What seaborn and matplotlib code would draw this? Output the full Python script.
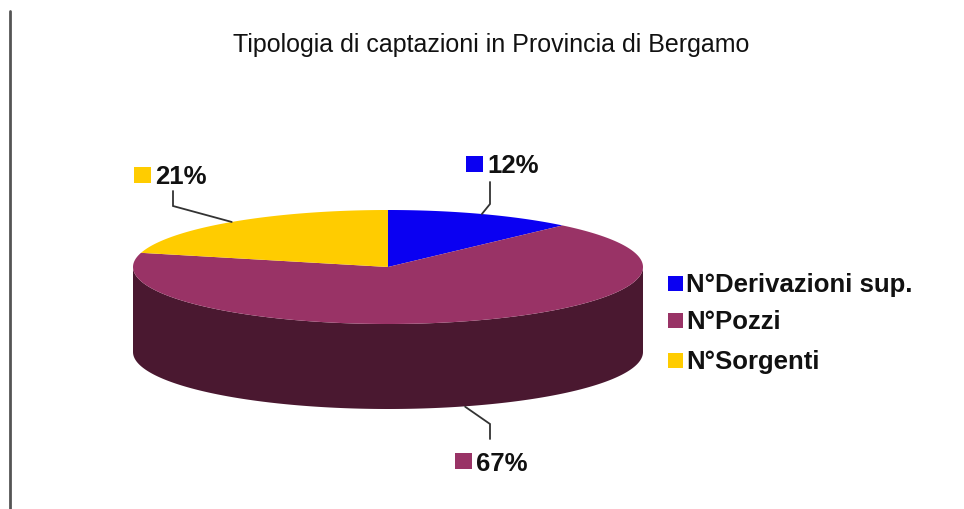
import numpy as np
import matplotlib
matplotlib.use("Agg")
import matplotlib.pyplot as plt
import seaborn as sns
from matplotlib.patches import Polygon, Rectangle

categories = ["N°Derivazioni sup.", "N°Pozzi", "N°Sorgenti"]
shares = [12, 67, 21]
pct_labels = ["12%", "67%", "21%"]
colors = ["#0a00f2", "#993366", "#ffcc00"]
side_colors = ["#05007a", "#4a1830", "#806600"]
title = "Tipologia di captazioni in Provincia di Bergamo"

sns.set_theme(style="white")
plt.rcParams['font.family'] = ['Liberation Sans', 'DejaVu Sans']

fig = plt.figure(figsize=(9.64, 5.10), dpi=100)
ax = fig.add_axes([0, 0, 1, 1])
ax.set_xlim(0, 964)
ax.set_ylim(510, 0)
ax.axis('off')

cx, cy, rx, ry, depth = 388, 268, 255, 57, 85


def pt(theta, dy=0.0):
    t = np.radians(theta)
    return cx + rx * np.sin(t), cy - ry * np.cos(t) + dy


bounds = np.concatenate([[0], np.cumsum(shares) / sum(shares) * 360])

# side walls (front half only)
for i in range(len(shares)):
    a0, a1 = bounds[i], bounds[i + 1]
    s0, s1 = max(a0, 90), min(a1, 270)
    if s1 > s0:
        th = np.linspace(s0, s1, 200)
        tx, ty = pt(th)
        bx, by = pt(th[::-1], depth)
        poly = np.column_stack([np.concatenate([tx, bx]), np.concatenate([ty, by])])
        ax.add_patch(Polygon(poly, closed=True, facecolor=side_colors[i], edgecolor='none'))

# top faces
for i in range(len(shares)):
    th = np.linspace(bounds[i], bounds[i + 1], 200)
    tx, ty = pt(th)
    poly = np.column_stack([np.concatenate([[cx], tx]), np.concatenate([[cy], ty])])
    ax.add_patch(Polygon(poly, closed=True, facecolor=colors[i], edgecolor='none'))

# labels with leader lines
label_cfg = {
    0: dict(elbow=(490, 205), end=(490, 183), sq=(466, 157), ty=166),
    1: dict(elbow=(490, 425), end=(490, 440), sq=(455, 454), ty=464),
    2: dict(elbow=(173, 207), end=(173, 192), sq=(134, 168), ty=177),
}
for i in range(len(shares)):
    mid = (bounds[i] + bounds[i + 1]) / 2
    dy = depth if 90 < mid < 270 else 0
    sx, sy = pt(mid, dy)
    if dy:
        sx += 6
    c = label_cfg[i]
    ax.plot([sx, c['elbow'][0], c['end'][0]], [sy, c['elbow'][1], c['end'][1]],
            color='#333333', lw=1.3, solid_joinstyle='miter')
    ax.add_patch(Rectangle(c['sq'], 17, 16, facecolor=colors[i], edgecolor='none'))
    ax.text(c['sq'][0] + 21, c['ty'], pct_labels[i], fontsize=18.5, fontweight='bold',
            color='#111111', ha='left', va='center')

# legend
leg_y = [285, 322, 362]
for i, cat in enumerate(categories):
    ax.add_patch(Rectangle((668, leg_y[i] - 8), 15, 15, facecolor=colors[i], edgecolor='none'))
    ax.text(686, leg_y[i], cat, fontsize=18.5, fontweight='bold', color='#111111',
            ha='left', va='center')

ax.text(491, 45, title, fontsize=18, color='#111111', ha='center', va='center')

ax.plot([9.5, 9.5], [12, 510], color='#555555', lw=2)

fig.savefig("out.png", dpi=100)
